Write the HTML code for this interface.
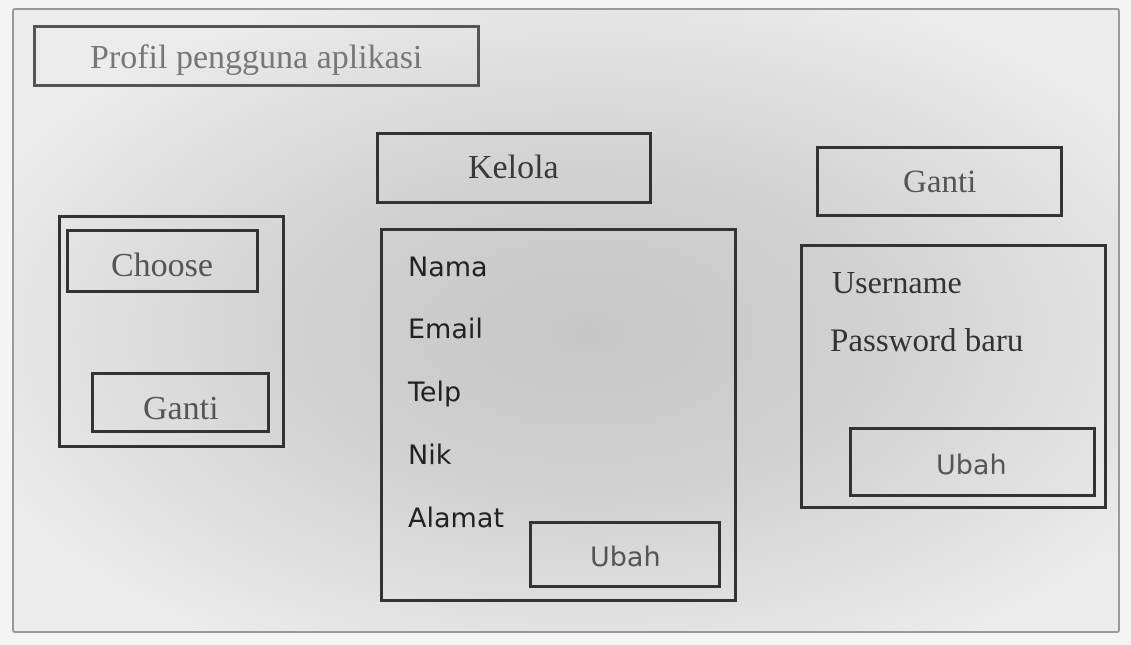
<!DOCTYPE html>
<html><head><meta charset="utf-8"><style>
html,body{margin:0;padding:0;width:1131px;height:645px;overflow:hidden;background:#f4f4f4}
#frame{position:absolute;left:12px;top:8px;width:1104px;height:621px;border:2px solid #999;border-radius:3px;
background:radial-gradient(ellipse 60% 60% at 52% 52%,#c6c6c6 0%,#d2d2d2 45%,#e2e2e2 80%,#ececec 100%);}
.b{position:absolute;border:3px solid #333;box-sizing:border-box}
.t{position:absolute;white-space:nowrap;color:#3a3a3a}
.s{font-family:"Liberation Serif",serif}
.n{font-family:"DejaVu Sans","Liberation Sans",sans-serif}
</style></head><body>
<div id="frame"></div>
<div class="b" style="left:33px;top:25px;width:447px;height:62px;border-color:#555"></div>
<div class="t s" style="left:90px;top:39px;font-size:34px;color:#777">Profil pengguna aplikasi</div>

<div class="b" style="left:376px;top:132px;width:276px;height:72px"></div>
<div class="t s" style="left:468px;top:149px;font-size:34px">Kelola</div>

<div class="b" style="left:816px;top:146px;width:247px;height:71px"></div>
<div class="t s" style="left:903px;top:164px;font-size:33px;color:#555">Ganti</div>

<div class="b" style="left:58px;top:215px;width:227px;height:233px"></div>
<div class="b" style="left:66px;top:229px;width:193px;height:64px"></div>
<div class="t s" style="left:111px;top:247px;font-size:34px;color:#555">Choose</div>
<div class="b" style="left:91px;top:372px;width:179px;height:61px"></div>
<div class="t s" style="left:143px;top:390px;font-size:34px;color:#555">Ganti</div>

<div class="b" style="left:380px;top:228px;width:357px;height:374px"></div>
<div class="t n" style="left:408px;top:252px;font-size:27px;color:#222">Nama</div>
<div class="t n" style="left:408px;top:314px;font-size:27px;color:#222">Email</div>
<div class="t n" style="left:408px;top:377px;font-size:27px;color:#222">Telp</div>
<div class="t n" style="left:408px;top:440px;font-size:27px;color:#222">Nik</div>
<div class="t n" style="left:408px;top:503px;font-size:27px;color:#222">Alamat</div>
<div class="b" style="left:529px;top:521px;width:192px;height:67px"></div>
<div class="t n" style="left:590px;top:542px;font-size:27px;color:#555">Ubah</div>

<div class="b" style="left:800px;top:244px;width:307px;height:265px"></div>
<div class="t s" style="left:832px;top:264px;font-size:32px;color:#333">Username</div>
<div class="t s" style="left:830px;top:323px;font-size:33px;color:#333">Password baru</div>
<div class="b" style="left:849px;top:427px;width:247px;height:70px"></div>
<div class="t n" style="left:936px;top:450px;font-size:27px;color:#555">Ubah</div>
</body></html>
